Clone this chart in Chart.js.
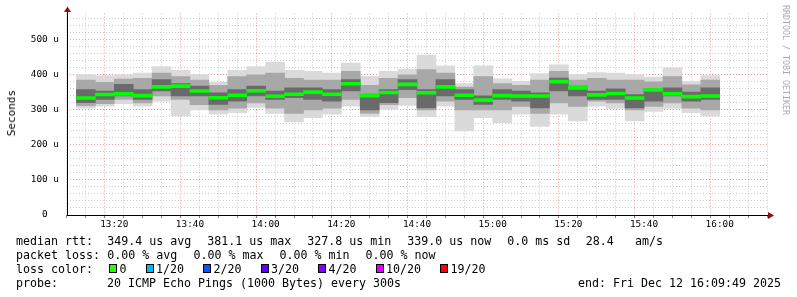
<!DOCTYPE html>
<html>
<head>
<meta charset="utf-8">
<script src="https://cdn.jsdelivr.net/npm/chart.js@4.4.1/dist/chart.umd.min.js"></script>
<style>
	body { margin: 0; background: #fff; }
	.wrap { position: relative; width: 797px; height: 297px; overflow: hidden; font-family: 'DejaVu Sans Mono', monospace; color: #000; }
	canvas { position: absolute; left: 0; top: 0; }
	.txt { position: absolute; font-size: 11.63px; line-height: 14px; white-space: pre; }
	.box { position: absolute; width: 6px; height: 7px; border: 1px solid #000; }
	.ylabel { position: absolute; left: 5px; top: 90px; font-size: 11px; line-height: 13px; color: #000; writing-mode: vertical-rl; transform: rotate(180deg); white-space: nowrap; }
	.credit { position: absolute; left: 781px; top: 5px; font-size: 8.3px; line-height: 10px; color: #aaa; writing-mode: vertical-rl; white-space: nowrap; }
</style>
</head>
<body>
<div class="wrap" id="wrap">
	<canvas id="smoke__chart" width="797" height="297"></canvas>
	<div class="ylabel">Seconds</div>
	<div class="credit">RRDTOOL / TOBI OETIKER</div>
</div>
<script>
// 5 minute steps, start time of each step
const times = ['13:10', '13:15', '13:20', '13:25', '13:30', '13:35', '13:40', '13:45', '13:50', '13:55',
	'14:00', '14:05', '14:10', '14:15', '14:20', '14:25', '14:30', '14:35', '14:40', '14:45',
	'14:50', '14:55', '15:00', '15:05', '15:10', '15:15', '15:20', '15:25', '15:30', '15:35',
	'15:40', '15:45', '15:50', '15:55'];

// values in microseconds
const median = [334, 344, 346, 341, 366, 368, 354, 335, 342, 355, 339, 345, 351, 345, 375, 341, 350,
	373, 349, 366, 342, 328, 341, 340, 340, 381, 363, 343, 347, 334, 357, 346, 338, 340];
const outerHi = [401, 398, 400, 405, 424, 413, 401, 379, 413, 424, 437, 413, 410, 405, 434, 396, 410,
	417, 457, 426, 375, 426, 389, 382, 404, 429, 401, 407, 405, 401, 394, 420, 382, 398];
const outerLo = [305, 311, 318, 311, 325, 283, 300, 288, 292, 307, 290, 266, 278, 288, 311, 281, 302,
	313, 281, 311, 240, 278, 264, 288, 253, 288, 269, 311, 304, 269, 296, 304, 292, 283];
const midHi = [385, 379, 388, 390, 405, 395, 385, 370, 395, 400, 405, 390, 385, 385, 410, 370, 390,
	400, 415, 405, 365, 395, 375, 370, 385, 410, 385, 390, 385, 385, 380, 395, 372, 385];
const midLo = [312, 318, 330, 320, 340, 330, 315, 300, 305, 320, 305, 290, 300, 305, 330, 290, 315,
	335, 300, 325, 300, 300, 300, 310, 290, 320, 310, 325, 320, 300, 310, 320, 305, 300];
const coreHi = [358, 354, 373, 358, 387, 375, 368, 349, 358, 368, 354, 363, 363, 358, 387, 345, 358,
	387, 358, 387, 358, 340, 358, 354, 349, 391, 368, 354, 360, 344, 360, 363, 351, 363];
const coreLo = [321, 330, 340, 330, 354, 340, 340, 316, 325, 340, 330, 335, 330, 325, 354, 300, 321,
	358, 306, 340, 330, 316, 330, 325, 306, 354, 340, 330, 330, 306, 325, 340, 325, 330];

const yTicks = [0, 100, 200, 300, 400, 500];

const rttStats = ['349.4 us avg', '381.1 us max', '327.8 us min', '339.0 us now', '0.0 ms sd', '28.4', 'am/s'];
const lossStats = ['0.00 % avg', '0.00 % max', '0.00 % min', '0.00 % now'];
const lossLabels = ['0', '1/20', '2/20', '3/20', '4/20', '10/20', '19/20'];
const lossColors = ['#26ff00', '#00b8ff', '#0059ff', '#5e00ff', '#7e00ff', '#dd00ff', '#ff0000'];

function toMin(t) {
	const p = t.split(':');
	return (+p[0]) * 60 + (+p[1]) - (13 * 60 + 10);
}
function toLabel(v) {
	const m = 13 * 60 + 10 + v;
	return Math.floor(m / 60) + ':' + String(m % 60).padStart(2, '0');
}
function band(lo, hi) {
	return times.map((t, i) => ({ x: toMin(t) + 2.5, y: [lo[i], hi[i]] }));
}

document.addEventListener('DOMContentLoaded', function () {
	const wrap = document.getElementById('wrap');

	function addText(str, x, y) {
		const el = document.createElement('div');
		el.className = 'txt';
		el.textContent = str;
		el.style.left = x + 'px';
		el.style.top = y + 'px';
		wrap.appendChild(el);
	}

	// legend lines
	addText('median rtt:', 16, 234);
	const rttX = [107.3, 207.3, 307.3, 407.3, 507.3, 585.7, 635];
	rttStats.forEach((s, i) => addText(s, rttX[i], 234));

	addText('packet loss:', 16, 248);
	lossStats.forEach((s, i) => addText(s, 107.3 + i * 86.1, 248));

	addText('loss color:', 16, 262);
	let bx = 109;
	lossLabels.forEach((l, i) => {
		const b = document.createElement('div');
		b.className = 'box';
		b.style.left = bx + 'px';
		b.style.top = '264px';
		b.style.background = lossColors[i];
		wrap.appendChild(b);
		addText(l, bx + 10.5, 262);
		bx += 10.5 + l.length * 7 + 19;
	});

	addText('probe:       20 ICMP Echo Pings (1000 Bytes) every 300s', 16, 276);
	addText('end: Fri Dec 12 16:09:49 2025', 578, 276);

	const arrows = {
		id: 'arrows',
		afterDraw(chart) {
			const c = chart.ctx;
			const a = chart.chartArea;
			c.save();
			c.strokeStyle = '#000';
			c.lineWidth = 1;
			c.beginPath();
			c.moveTo(a.left + 0.5, a.bottom);
			c.lineTo(a.left + 0.5, 11);
			c.moveTo(a.left, a.bottom + 0.5);
			c.lineTo(769, a.bottom + 0.5);
			c.stroke();
			c.fillStyle = '#8b1010';
			c.beginPath();
			c.moveTo(a.left + 0.5, 6.5);
			c.lineTo(a.left - 3, 12);
			c.lineTo(a.left + 4, 12);
			c.closePath();
			c.fill();
			c.beginPath();
			c.moveTo(774, a.bottom + 0.5);
			c.lineTo(768, a.bottom - 3);
			c.lineTo(768, a.bottom + 4);
			c.closePath();
			c.fill();
			c.restore();
		},
	};

	const common = {
		barPercentage: 1,
		categoryPercentage: 1,
		grouped: false,
		borderWidth: 0,
	};

	const ctx = document.getElementById('smoke__chart').getContext('2d');
	new Chart(ctx, {
		type: 'bar',
		data: {
			datasets: [
				Object.assign({ data: band(median.map(m => m - 4.2), median.map(m => m + 4.2)), backgroundColor: '#00ff00', order: 0 }, common),
				Object.assign({ data: band(coreLo, coreHi), backgroundColor: '#6a6a6a', order: 1 }, common),
				Object.assign({ data: band(midLo, midHi), backgroundColor: '#a8a8a8', order: 2 }, common),
				Object.assign({ data: band(outerLo, outerHi), backgroundColor: '#dadada', order: 3 }, common),
			],
		},
		options: {
			responsive: false,
			animation: false,
			layout: { padding: { left: 23, right: 30, top: 12, bottom: 62 } },
			plugins: {
				legend: { display: false },
				tooltip: { enabled: false },
			},
			scales: {
				x: {
					type: 'linear',
					min: 0,
					max: 180,
					z: 1,
					afterFit: function (scale) { scale.height = 20; },
					ticks: {
						stepSize: 5,
						includeBounds: false,
						autoSkip: false,
						maxRotation: 0,
						padding: 1,
						color: '#000',
						font: { family: 'DejaVu Sans Mono', size: 9.4 },
						callback: function (v) {
							return (v - 10) % 20 === 0 ? toLabel(v) : '';
						},
					},
					grid: {
						color: function (c) {
							return c.tick && (c.tick.value - 10) % 20 === 0 ? 'rgba(220,60,60,0.5)' : 'rgba(140,140,140,0.45)';
						},
						tickColor: 'rgba(0,0,0,0.5)',
						tickLength: 3,
					},
					border: { display: false, dash: [1, 2] },
				},
				y: {
					min: 0,
					max: 575,
					z: 1,
					afterFit: function (scale) { scale.width = 44; },
					ticks: {
						stepSize: 20,
						includeBounds: false,
						autoSkip: false,
						crossAlign: 'center',
						padding: 8,
						color: '#000',
						font: { family: 'DejaVu Sans Mono', size: 9.4 },
						callback: function (v) {
							if (!yTicks.includes(v)) return '';
							return v === 0 ? '0' : v + ' u';
						},
					},
					grid: {
						color: function (c) {
							return c.tick && c.tick.value % 100 === 0 ? 'rgba(220,60,60,0.5)' : 'rgba(140,140,140,0.45)';
						},
						drawTicks: false,
					},
					border: { display: false, dash: [1, 2] },
				},
			},
		},
		plugins: [arrows],
	});
});
</script>
</body>
</html>
